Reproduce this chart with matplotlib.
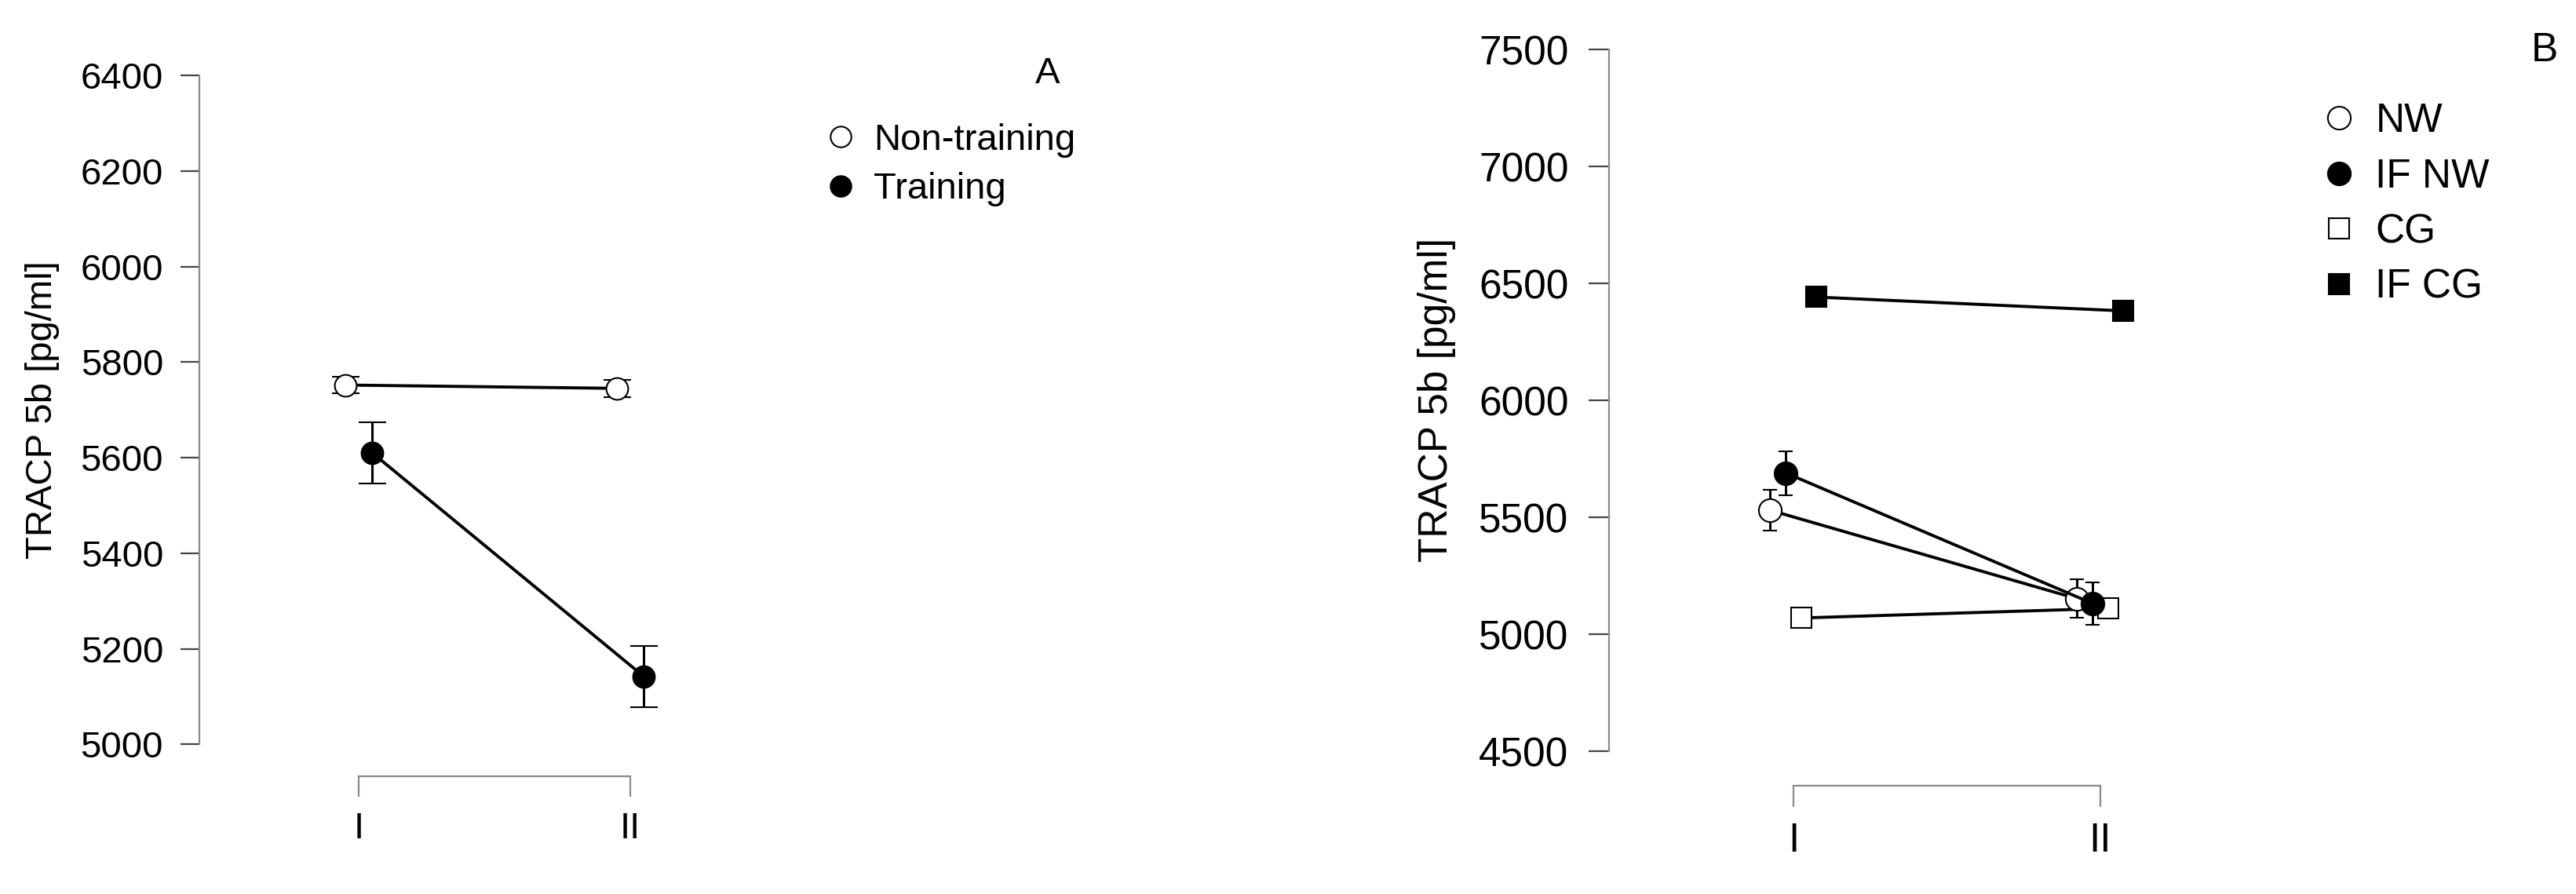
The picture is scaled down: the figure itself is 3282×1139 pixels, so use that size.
import numpy as np
import matplotlib.pyplot as plt
from matplotlib.lines import Line2D

plt.rcParams['font.family'] = ['Liberation Sans', 'DejaVu Sans']

# Data
periods = ['I', 'II']

# Panel A
nontrain_mean = [5752, 5745]
nontrain_se = [17, 18]
train_mean = [5610, 5142]
train_se = [64, 64]
a_yticks = [5000, 5200, 5400, 5600, 5800, 6000, 6200, 6400]

# Panel B
nw_mean = [5531, 5153]
nw_se = [87, 82]
ifnw_mean = [5690, 5132]
ifnw_se = [94, 91]
cg_mean = [5070, 5111]
ifcg_mean = [6442, 6383]
b_yticks = [4500, 5000, 5500, 6000, 6500, 7000, 7500]

W, H = 3282, 1139
fig = plt.figure(figsize=(W / 100, H / 100), dpi=100)


def add_axes_px(left, top, right, bottom):
    return fig.add_axes([left / W, 1 - bottom / H, (right - left) / W, (bottom - top) / H])


def style_axes(ax, yticks, fs, ylen, ypad, xlen, xpad):
    for side in ['top', 'right']:
        ax.spines[side].set_visible(False)
    ax.spines['left'].set_bounds(yticks[0], yticks[-1])
    ax.spines['bottom'].set_bounds(1, 2)
    for side in ['left', 'bottom']:
        ax.spines[side].set_color('#8a8a8a')
        ax.spines[side].set_linewidth(1.6)
    ax.set_yticks(yticks)
    ax.set_xticks([1, 2])
    ax.set_xticklabels(periods)
    ax.tick_params(axis='y', direction='out', length=ylen, width=1.6, pad=ypad,
                   labelsize=fs, color='#444444')
    ax.tick_params(axis='x', direction='out', length=xlen, width=1.6, pad=xpad,
                   labelsize=fs, color='#8a8a8a')
    ax.patch.set_visible(False)


def draw_series(ax, offset, mean, se, marker, face, ms, cap):
    x = np.array([1, 2]) + offset
    ax.errorbar(x, mean, yerr=se, fmt='-', marker=marker, color='black', mfc=face,
                mec='black', ms=ms, mew=1.5, lw=2.8, elinewidth=2.2, capsize=cap,
                capthick=2.2, clip_on=False)


# ---- Panel A
ax_a = add_axes_px(254, 40, 1400, 989)
ax_a.set_xlim(1 - (457 - 254) / 346, 2 + (1400 - 803) / 346)
ax_a.set_ylim(5000 - (989 - 948.3) / 0.6087, 6400 + (96.1 - 40) / 0.6087)
style_axes(ax_a, a_yticks, 34, 17.3, 15.8, 18.7, 14)

draw_series(ax_a, -0.048, nontrain_mean, nontrain_se, 'o', 'white', 20, 12.6)
draw_series(ax_a, 0.05, train_mean, train_se, 'o', 'black', 20, 12.6)

fig.text(53.6 / W, 1 - 522 / H, 'TRACP 5b [pg/ml]', rotation=90, ha='center',
         va='center', fontsize=34)
fig.text(1335 / W, 1 - 94 / H, 'A', ha='center', va='center', fontsize=34)

a_handles = [Line2D([], [], ls='none', marker='o', mfc='white', mec='black', ms=19, mew=1.5),
             Line2D([], [], ls='none', marker='o', mfc='black', mec='black', ms=19, mew=1.5)]
ax_a.legend(a_handles, ['Non-training', 'Training'], loc='upper left',
            bbox_to_anchor=(1052 / W, 1 - 157 / H), bbox_transform=fig.transFigure,
            frameon=False, fontsize=34, handlelength=0.8, handletextpad=0.49,
            labelspacing=0.39, borderaxespad=0, borderpad=0)

# ---- Panel B
ax_b = add_axes_px(2049.5, 20, 3270, 1000.7)
ax_b.set_xlim(1 - (2285 - 2049.5) / 391, 2 + (3270 - 2676) / 391)
ax_b.set_ylim(4500 - (1000.7 - 957.2) / 0.298, 7500 + (63.2 - 20) / 0.298)
style_axes(ax_b, b_yticks, 37, 18.4, 18.4, 19.5, 14)

draw_series(ax_b, 0.026, cg_mean, None, 's', 'white', 18.5, 6.5)
draw_series(ax_b, 0.075, ifcg_mean, None, 's', 'black', 18.5, 6.5)
draw_series(ax_b, -0.077, nw_mean, nw_se, 'o', 'white', 21, 6.5)
draw_series(ax_b, -0.025, ifnw_mean, ifnw_se, 'o', 'black', 21, 6.5)

fig.text(1830.7 / W, 1 - 510 / H, 'TRACP 5b [pg/ml]', rotation=90, ha='center',
         va='center', fontsize=37)
fig.text(3242 / W, 1 - 64 / H, 'B', ha='center', va='center', fontsize=37)

b_handles = [Line2D([], [], ls='none', marker='o', mfc='white', mec='black', ms=21, mew=1.5),
             Line2D([], [], ls='none', marker='o', mfc='black', mec='black', ms=21, mew=1.5),
             Line2D([], [], ls='none', marker='s', mfc='white', mec='black', ms=19, mew=1.5),
             Line2D([], [], ls='none', marker='s', mfc='black', mec='black', ms=19, mew=1.5)]
ax_b.legend(b_handles, ['NW', 'IF NW', 'CG', 'IF CG'], loc='upper left',
            bbox_to_anchor=(2959 / W, 1 - 130 / H), bbox_transform=fig.transFigure,
            frameon=False, fontsize=37, handlelength=0.8, handletextpad=0.51,
            labelspacing=0.42, borderaxespad=0, borderpad=0)

fig.savefig('out.png', dpi=100)
